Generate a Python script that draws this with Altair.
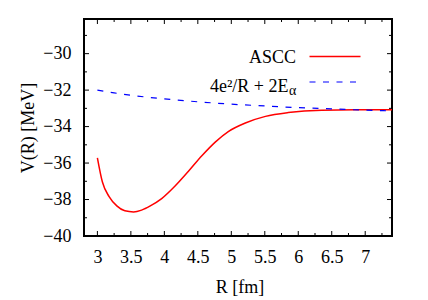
import altair as alt
import pandas as pd

# ASCC potential
R_ascc = [3.0, 3.075, 3.175, 3.29, 3.41, 3.54, 3.66, 3.79, 3.96, 4.16, 4.36,
          4.56, 4.76, 4.96, 5.21, 5.51, 5.85, 6.35, 6.85, 7.4]
V_ascc = [-35.71, -37.04, -37.84, -38.35, -38.62, -38.68, -38.58, -38.35, -37.95,
          -37.26, -36.45, -35.6, -34.85, -34.26, -33.80, -33.44, -33.23, -33.10,
          -33.08, -33.08]

# Coulomb + 2E_alpha
R_coul = [3.0, 3.25, 3.5, 3.75, 4.0, 4.5, 5.0, 5.5, 6.0, 6.5, 7.0, 7.4]
V_coul = [-32.0, -32.15, -32.28, -32.39, -32.48, -32.64, -32.77, -32.87, -32.96,
          -33.03, -33.10, -33.14]

x_ticks = [3, 3.5, 4, 4.5, 5, 5.5, 6, 6.5, 7]
x_minor = [3.25, 3.75, 4.25, 4.75, 5.25, 5.75, 6.25, 6.75, 7.25]
y_ticks = [-40, -38, -36, -34, -32, -30]
y_minor = [-39, -37, -35, -33, -31, -29]

legend_labels = ["ASCC", "4e\u00b2/R + 2E"]
legend_sub = "\u03b1"

W, H = 308, 217
FONT = "serif"
FS = 18

xs = alt.Scale(domain=[2.8, 7.4], nice=False, zero=False)
ys = alt.Scale(domain=[-40, -28.1], nice=False, zero=False)

common = dict(labelFont=FONT, labelFontSize=FS, labelColor="black",
              titleFont=FONT, titleFontSize=FS, titleColor="black",
              titleFontWeight="normal", ticks=False, domain=False, grid=False,
              labelFlush=False)

xaxis = alt.Axis(values=x_ticks, format=".1~f", title="R [fm]", labelPadding=12,
                 titleX=W / 2 + 1.5, titleY=51, titleBaseline="middle", **common)
yaxis = alt.Axis(values=y_ticks, format="d", title="V(R) [MeV]", labelPadding=13,
                 titleX=-56, titleY=H / 2, titleBaseline="middle", **common)

X = alt.X("R:Q", scale=xs, axis=xaxis)
Y = alt.Y("V:Q", scale=ys, axis=yaxis)

ascc = alt.Chart(pd.DataFrame({"R": R_ascc, "V": V_ascc})).mark_line(
    color="#ff0000", strokeWidth=1.5, clip=True, interpolate="monotone"
).encode(x=X, y=Y)

coul = alt.Chart(pd.DataFrame({"R": R_coul, "V": V_coul})).mark_line(
    color="#0000ff", strokeWidth=1.2, strokeDash=[6, 7.5], clip=True,
    interpolate="monotone"
).encode(x=X, y=Y)


def xtick(vals, y0, y1):
    return alt.Chart(pd.DataFrame({"R": vals})).mark_rule(
        color="black", strokeWidth=1).encode(x=X, y=alt.value(y0), y2=alt.value(y1))


def ytick(vals, x0, x1):
    return alt.Chart(pd.DataFrame({"V": vals})).mark_rule(
        color="black", strokeWidth=1).encode(y=Y, x=alt.value(x0), x2=alt.value(x1))


ticks = [
    xtick(x_ticks, H, H - 5), xtick(x_minor, H, H - 3),
    xtick(x_ticks, 0, 5), xtick(x_minor, 0, 3),
    ytick(y_ticks, 0, 5), ytick(y_minor, 0, 3),
    ytick(y_ticks, W, W - 5), ytick(y_minor, W, W - 3),
]

one = pd.DataFrame({"a": [0]})
leg_t1 = alt.Chart(pd.DataFrame({"t": [legend_labels[0]]})).mark_text(
    align="right", baseline="middle", font=FONT, fontSize=FS, color="black"
).encode(text="t:N", x=alt.value(212), y=alt.value(38.5))
leg_t2 = alt.Chart(pd.DataFrame({"t": [legend_labels[1]]})).mark_text(
    align="right", baseline="alphabetic", font=FONT, fontSize=FS, color="black"
).encode(text="t:N", x=alt.value(204.5), y=alt.value(72.5))
leg_t3 = alt.Chart(pd.DataFrame({"t": [legend_sub]})).mark_text(
    align="left", baseline="alphabetic", font=FONT, fontSize=14, color="black"
).encode(text="t:N", x=alt.value(205), y=alt.value(76))
leg_l1 = alt.Chart(one).mark_rule(color="#ff0000", strokeWidth=1.5).encode(
    x=alt.value(225.5), x2=alt.value(276.5), y=alt.value(37.5))
leg_l2 = alt.Chart(one).mark_rule(color="#0000ff", strokeWidth=1.2,
                                  strokeDash=[6, 7.5]).encode(
    x=alt.value(225.5), x2=alt.value(276.5), y=alt.value(63))

chart = alt.layer(ascc, coul, *ticks, leg_t1, leg_t2, leg_t3, leg_l1, leg_l2).properties(
    width=W, height=H,
    autosize=alt.AutoSizeParams(type="none"),
    padding={"left": 76, "top": 11, "right": 10, "bottom": 62},
    background="white",
).configure_view(
    stroke="black", strokeWidth=2
)

chart.save("out.html", embed_options={"renderer": "svg", "actions": False})
